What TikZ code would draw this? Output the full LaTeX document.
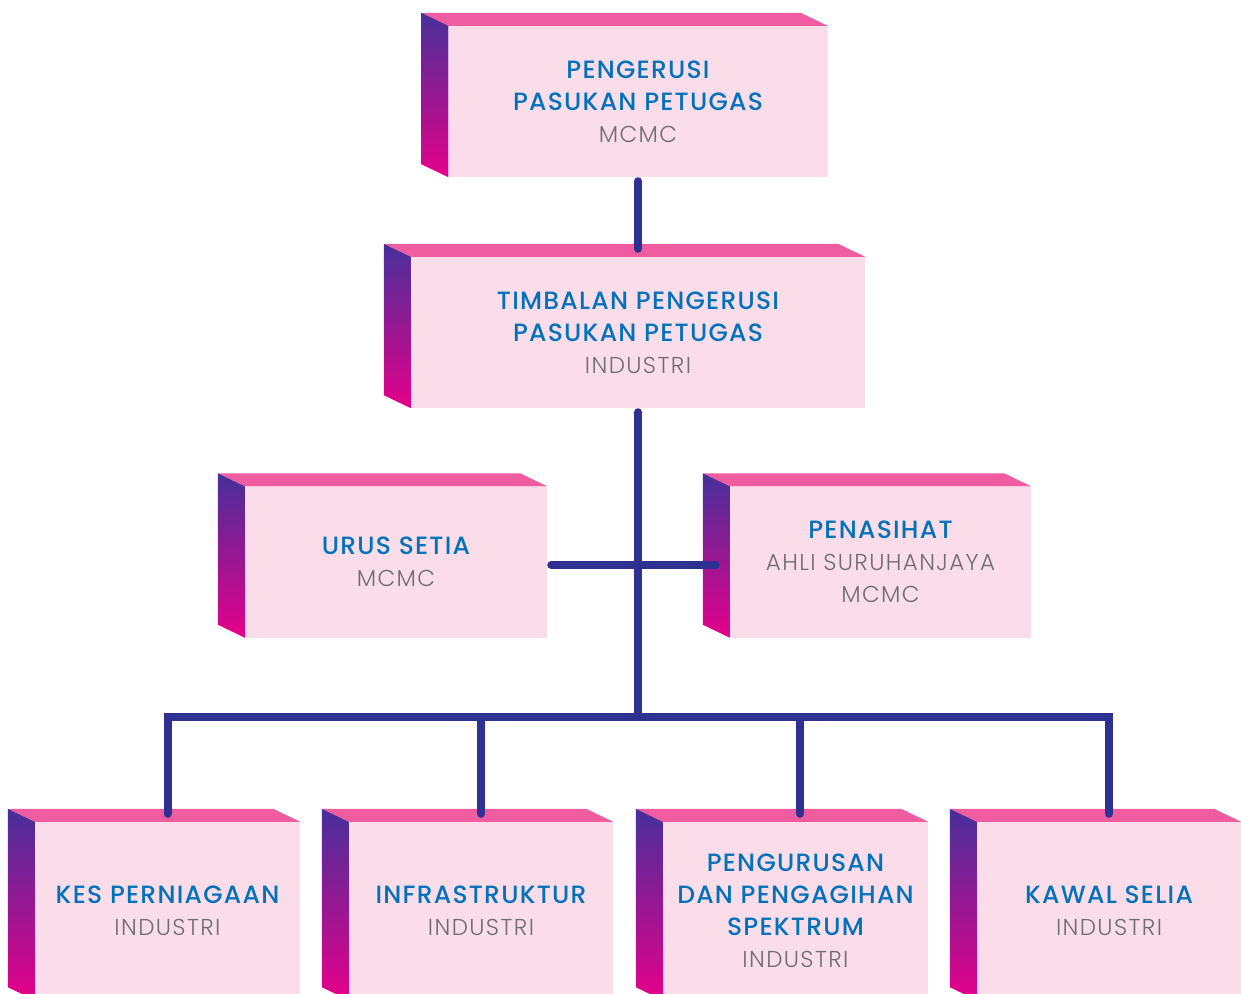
\documentclass[tikz,border=0pt]{standalone}
\usepackage{fontspec}
\setmainfont{Poppins}
\newfontfamily\headfont{Poppins Medium}[LetterSpace=5]
\newfontfamily\subfont{Poppins Light}[LetterSpace=6]
\definecolor{facefront}{HTML}{FBDCE9}
\definecolor{facetop}{HTML}{EF5DA0}
\definecolor{sidetop}{HTML}{46309A}
\definecolor{sidebottom}{HTML}{E6008A}
\definecolor{headblue}{HTML}{0072BC}
\definecolor{subgray}{HTML}{6D6E71}
\definecolor{linkblue}{HTML}{2E3192}

\newcommand{\boxhead}[1]{{\color{headblue}\headfont\fontsize{25}{32}\selectfont #1}}
\newcommand{\boxsub}[1]{{\color{subgray}\subfont #1}}

\begin{document}
\begin{tikzpicture}[
		x=1pt, y=-1pt,
		every node/.style={font=\fontsize{23}{32}\selectfont},
		unit/.style={
			rectangle,
			fill=facefront,
			inner sep=0pt,
			align=center,
			minimum height=151pt
		},
		lowunit/.style={
			unit,
			minimum height=178pt
		},
		link/.style={
			draw=linkblue,
			line width=8pt,
			line cap=round,
			shorten >=8pt
		}
		]
		\useasboundingbox (0,0) rectangle (1241,993);
		\clip (0,0) rectangle (1241,993);
		
		% Nodes
		\node[unit, minimum width=379pt] (chair) at (638,101.5) {\boxhead{PENGERUSI}\\ \boxhead{PASUKAN PETUGAS}\\ \boxsub{MCMC}};
		
		\node[unit, minimum width=454pt] (deputy) at (638,332.5) {\boxhead{TIMBALAN PENGERUSI}\\ \boxhead{PASUKAN PETUGAS}\\ \boxsub{INDUSTRI}};
		
		\node[unit, minimum width=302pt] (secretariat) at (396,562) {\boxhead{URUS SETIA}\\ \boxsub{MCMC}};
		
		\node[unit, minimum width=301pt] (adviser) at (880.5,562) {\boxhead{PENASIHAT}\\ \boxsub{AHLI SURUHANJAYA}\\ \boxsub{MCMC}};
		
		\node[lowunit, minimum width=265pt] (cases) at (167.5,911) {\boxhead{KES PERNIAGAAN}\\ \boxsub{INDUSTRI}};
		
		\node[lowunit, minimum width=264pt] (infra) at (481,911) {\boxhead{INFRASTRUKTUR}\\ \boxsub{INDUSTRI}};
		
		\node[lowunit, minimum width=265pt] (spectrum) at (795.5,911) {\boxhead{PENGURUSAN}\\ \boxhead{DAN PENGAGIHAN}\\ \boxhead{SPEKTRUM}\\ \boxsub{INDUSTRI}};
		
		\node[lowunit, minimum width=264pt] (regulation) at (1109,911) {\boxhead{KAWAL SELIA}\\ \boxsub{INDUSTRI}};
		
		% Top and side faces
		\foreach \n in {chair,deputy,secretariat,adviser,cases,infra,spectrum,regulation}{
			\fill[facetop] (\n.north west) -- ++(-27,-13) -- ([shift={(-27,-13)}]\n.north east) -- (\n.north east) -- cycle;
			\shade[top color=sidetop, bottom color=sidebottom] (\n.north west) -- ++(-27,-13) -- ([shift={(-27,-13)}]\n.south west) -- (\n.south west) -- cycle;
		}
		
		% Connectors
		\coordinate (bus) at (638,717);
		\coordinate (specdrop) at ([xshift=4.5pt]spectrum.north);
		
		\draw[link, shorten <=4pt] (chair.south) -- (deputy.north);
		\draw[link, shorten <=4pt, shorten >=0pt] (deputy.south) -- (bus);
		\draw[link, shorten <=4pt, shorten >=14pt] ([yshift=-3pt]secretariat.east) -- ([yshift=-3pt]adviser.west);
		
		\draw[link, shorten <=8pt] (cases.north) |- (bus) -| (regulation.north);
		\draw[link] (bus -| infra.north) -- (infra.north);
		\draw[link] (bus -| specdrop) -- (specdrop);
		
\end{tikzpicture}
\end{document}
